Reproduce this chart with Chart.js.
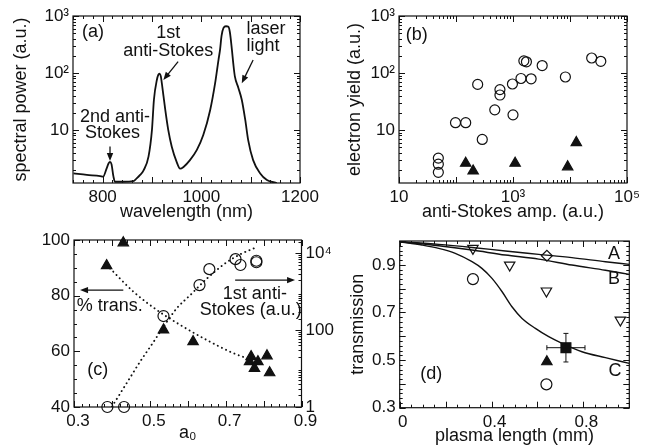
<!DOCTYPE html>
<html>
<head>
<meta charset="utf-8">
<script src="https://cdn.jsdelivr.net/npm/chart.js@4.4.1/dist/chart.umd.min.js"></script>
<style>
  html, body { margin: 0; padding: 0; background: #fff; }
  #wrap { position: relative; width: 652px; height: 448px; overflow: hidden; background: #fff; }
  canvas { position: absolute; }
</style>
</head>
<body>
<div id="wrap">
  <canvas id="pa" width="326" height="224" style="left:0;top:0"></canvas>
  <canvas id="pb" width="326" height="224" style="left:326px;top:0"></canvas>
  <canvas id="pc" width="345" height="224" style="left:0;top:224px"></canvas>
  <canvas id="pd" width="326" height="224" style="left:326px;top:224px"></canvas>
</div>
<script>
// ---------- (a) spectrum ----------
const aWavelength = [741, 768, 795, 801, 808, 812, 815, 818, 822, 825, 842, 862, 869, 876, 883, 893, 900, 904, 910, 913, 915, 918, 920, 927, 933, 940, 950, 957, 964, 977, 991, 1004, 1018, 1028, 1035, 1038, 1041, 1045, 1050, 1055, 1058, 1062, 1065, 1068, 1075, 1082, 1089, 1095, 1105, 1119, 1133, 1153];
const aPower = [1.72, 1.62, 1.55, 1.51, 2.09, 2.57, 2.75, 2.51, 1.51, 1.23, 1.23, 1.26, 1.41, 1.62, 1.95, 3.39, 10, 33.9, 75.9, 93.3, 97.7, 87.1, 66.1, 22.4, 10, 5.13, 2.75, 2.09, 2.24, 2.95, 4.47, 8.13, 22.4, 66.1, 174, 257, 447, 617, 661, 646, 513, 257, 141, 87.1, 55, 33.9, 15.1, 6.61, 2.95, 1.74, 1.32, 1.17];
const aXTicks = [800, 900, 1000, 1100, 1200];
const aXLabels = ['800', '', '1000', '', '1200'];
const aYTicks = [10, 100, 1000];
const aYLabels = ['10', '10²', '10³'];

// ---------- (b) electron yield ----------
const bCircleAmp = [49, 49, 49, 98, 148, 289, 240, 479, 590, 590, 977, 1000, 1380, 1550, 1720, 2080, 3250, 8300, 24000, 34700];
const bCircleYield = [3.2, 2.5, 1.8, 13.4, 13.4, 6.8, 63, 22.5, 51, 41, 64, 18.4, 80, 163, 157, 79, 135, 85, 183, 160];
const bTriAmp = [148, 200, 1090, 9100, 12900];
const bTriYield = [2.6, 1.9, 2.6, 2.25, 6.0];
const bXTicks = [10, 100, 1000, 10000, 100000];
const bXLabels = ['10', '', '10³', '', '10⁵'];
const bYTicks = [10, 100, 1000];
const bYLabels = ['10', '10²', '10³'];

// ---------- (c) transmission / anti-Stokes vs a0 ----------
const cTriA0 = [0.430, 0.386, 0.536, 0.614, 0.767, 0.763, 0.785, 0.776, 0.809, 0.816];
const cTriTrans = [99, 90.8, 67.7, 63.5, 58.1, 56.3, 56.3, 53.9, 58.4, 52.3];
const cCircA0 = [0.388, 0.432, 0.536, 0.631, 0.657, 0.726, 0.739, 0.781, 0.781];
const cCircAS = [1, 1, 234, 1500, 3900, 7100, 5000, 6450, 5900];
const cTransFitA0 = [0.395, 0.457, 0.519, 0.58, 0.651, 0.721, 0.757];
const cTransFit = [89.8, 81.4, 74.8, 69.5, 64, 59.3, 57.5];
const cASFitA0 = [0.400, 0.439, 0.474, 0.510, 0.536, 0.571, 0.607, 0.651, 0.704, 0.739, 0.774];
const cASFit = [1.02, 4.2, 15, 50, 123, 372, 830, 2240, 6000, 9550, 13500];
const cXTicks = [0.3, 0.4, 0.5, 0.6, 0.7, 0.8, 0.9];
const cXLabels = ['0.3', '', '0.5', '', '0.7', '', '0.9'];
const cYTicks = [40, 60, 80, 100];
const cYLabels = ['40', '60', '80', '100'];
const cY2Ticks = [1, 100, 10000];
const cY2Labels = ['1', '100', '10⁴'];

// ---------- (d) transmission vs plasma length ----------
const dCLen = [0, 0.097, 0.170, 0.242, 0.315, 0.358, 0.402, 0.446, 0.489, 0.533, 0.591, 0.649, 0.707, 0.794, 0.896, 1.0];
const dCurveC = [0.997, 0.983, 0.969, 0.948, 0.913, 0.885, 0.843, 0.787, 0.724, 0.675, 0.633, 0.598, 0.570, 0.535, 0.510, 0.486];
const dABLen = [0, 0.170, 0.315, 0.460, 0.605, 0.750, 0.896, 1.0];
const dCurveA = [0.997, 0.986, 0.973, 0.958, 0.944, 0.930, 0.913, 0.902];
const dCurveB = [0.997, 0.980, 0.962, 0.941, 0.924, 0.899, 0.877, 0.860];
const dDownTriLen = [0.319, 0.479, 0.639, 0.961];
const dDownTri = [0.969, 0.899, 0.790, 0.668];
const dCircLen = [0.319, 0.639];
const dCirc = [0.840, 0.398];
const dDiamondLen = [0.641];
const dDiamond = [0.938];
const dTriLen = [0.641];
const dTri = [0.493];
const dSquareLen = [0.724];
const dSquare = [0.552];
const dSquareErrX = [0.083];
const dSquareErrY = [0.06];
const dXTicks = [0, 0.2, 0.4, 0.6, 0.8, 1.0];
const dXLabels = ['0', '', '0.4', '', '0.8', ''];
const dYTicks = [0.3, 0.4, 0.5, 0.6, 0.7, 0.8, 0.9, 1.0];
const dYLabels = ['0.3', '', '0.5', '', '0.7', '', '0.9', ''];

const INK = '#111';
Chart.defaults.font.family = '"Liberation Sans", Arial, Helvetica, sans-serif';
Chart.defaults.color = INK;

const pts = (xs, ys) => xs.map((x, i) => ({ x: x, y: ys[i] }));

function axis(o) {
  return {
    type: o.type || 'linear', position: o.pos, min: o.min, max: o.max,
    grid: { display: false, drawTicks: false },
    border: { display: false },
    afterBuildTicks: s => { s.ticks = o.ticks.map(v => ({ value: v })); },
    afterFit: s => { if (s.isHorizontal()) s.height = o.size; else s.width = o.size; },
    ticks: { autoSkip: false, maxRotation: 0, padding: o.tickPad || 4, labelOffset: o.labelOffset || 0,
             color: INK, font: { size: 17 }, callback: (v, i) => o.labels[i] },
    title: o.title ? { display: true, text: o.title, color: INK, font: { size: 18 }, padding: o.titlePad }
                   : { display: false }
  };
}

// frame with inward ticks on all sides
function frameTicks(sides) {
  return {
    id: 'frameTicks',
    afterDraw(chart) {
      const { ctx, chartArea: a } = chart;
      ctx.save();
      ctx.strokeStyle = INK;
      ctx.lineWidth = 1.2;
      ctx.strokeRect(a.left, a.top, a.right - a.left, a.bottom - a.top);
      ctx.lineWidth = 1;
      Object.keys(sides).forEach(id => {
        const s = chart.scales[id];
        const cfg = sides[id];
        const minor = [];
        if (s.type === 'logarithmic') {
          for (let e = Math.floor(Math.log10(s.min)); e <= Math.ceil(Math.log10(s.max)); e++) {
            for (let k = 2; k <= 9; k++) {
              const v = k * Math.pow(10, e);
              if (v >= s.min && v <= s.max) minor.push(v);
            }
          }
        } else {
          for (let v = Math.ceil(s.min / cfg.minor - 1e-6) * cfg.minor; v <= s.max + 1e-9; v += cfg.minor) minor.push(v);
        }
        const tick = (v, len) => {
          const p = Math.round(s.getPixelForValue(v)) + 0.5;
          cfg.edges.forEach(e => {
            ctx.beginPath();
            if (e === 'bottom') { ctx.moveTo(p, a.bottom); ctx.lineTo(p, a.bottom - len); }
            if (e === 'top') { ctx.moveTo(p, a.top); ctx.lineTo(p, a.top + len); }
            if (e === 'left') { ctx.moveTo(a.left, p); ctx.lineTo(a.left + len, p); }
            if (e === 'right') { ctx.moveTo(a.right, p); ctx.lineTo(a.right - len, p); }
            ctx.stroke();
          });
        };
        minor.forEach(v => tick(v, 3));
        s.ticks.forEach(t => tick(t.value, 6));
      });
      ctx.restore();
    }
  };
}

// text labels and arrows placed in data coordinates
function notes(texts, arrows) {
  return {
    id: 'notes',
    afterDraw(chart) {
      const ctx = chart.ctx;
      ctx.save();
      ctx.fillStyle = INK;
      ctx.strokeStyle = INK;
      texts.forEach(n => {
        const ys = chart.scales[n.axis || 'y'];
        ctx.font = (n.size || 18) + 'px "Liberation Sans", Arial, sans-serif';
        ctx.textAlign = n.align || 'center';
        ctx.textBaseline = 'middle';
        ctx.fillText(n.text, chart.scales.x.getPixelForValue(n.x), ys.getPixelForValue(n.y));
      });
      arrows.forEach(r => {
        const ys = chart.scales[r.axis || 'y'];
        const x1 = chart.scales.x.getPixelForValue(r.x1), y1 = ys.getPixelForValue(r.y1);
        const x2 = chart.scales.x.getPixelForValue(r.x2), y2 = ys.getPixelForValue(r.y2);
        const ang = Math.atan2(y2 - y1, x2 - x1);
        ctx.lineWidth = 1.3;
        ctx.beginPath(); ctx.moveTo(x1, y1);
        ctx.lineTo(x2 - 6 * Math.cos(ang), y2 - 6 * Math.sin(ang)); ctx.stroke();
        ctx.beginPath();
        ctx.moveTo(x2, y2);
        ctx.lineTo(x2 - 8 * Math.cos(ang) + 3.2 * Math.sin(ang), y2 - 8 * Math.sin(ang) - 3.2 * Math.cos(ang));
        ctx.lineTo(x2 - 8 * Math.cos(ang) - 3.2 * Math.sin(ang), y2 - 8 * Math.sin(ang) + 3.2 * Math.cos(ang));
        ctx.closePath(); ctx.fill();
      });
      ctx.restore();
    }
  };
}

const errorBars = {
  id: 'errorBars',
  afterDatasetsDraw(chart) {
    const ctx = chart.ctx, xs = chart.scales.x, ys = chart.scales.y;
    ctx.save();
    ctx.strokeStyle = INK;
    ctx.lineWidth = 1;
    chart.data.datasets.forEach(ds => {
      if (!ds.errX) return;
      ds.data.forEach((p, i) => {
        const xl = xs.getPixelForValue(p.x - ds.errX[i]), xr = xs.getPixelForValue(p.x + ds.errX[i]);
        const yt = ys.getPixelForValue(p.y + ds.errY[i]), yb = ys.getPixelForValue(p.y - ds.errY[i]);
        const px = xs.getPixelForValue(p.x), py = ys.getPixelForValue(p.y);
        ctx.beginPath();
        ctx.moveTo(xl, py); ctx.lineTo(xr, py);
        ctx.moveTo(px, yt); ctx.lineTo(px, yb);
        ctx.moveTo(xl, py - 2.5); ctx.lineTo(xl, py + 2.5);
        ctx.moveTo(xr, py - 2.5); ctx.lineTo(xr, py + 2.5);
        ctx.moveTo(px - 2.5, yt); ctx.lineTo(px + 2.5, yt);
        ctx.moveTo(px - 2.5, yb); ctx.lineTo(px + 2.5, yb);
        ctx.stroke();
      });
    });
    ctx.restore();
  }
};

const base = (pad) => ({
  responsive: false, animation: false, devicePixelRatio: 1,
  layout: { padding: pad },
  plugins: { legend: { display: false }, tooltip: { enabled: false } },
  events: []
});

const lineDs = (data, extra) => Object.assign({ data: data, showLine: true, pointRadius: 0,
  borderColor: INK, borderWidth: 1.4, cubicInterpolationMode: 'monotone' }, extra || {});
const markDs = (data, style, fill, r, extra) => Object.assign({ data: data, showLine: false,
  pointStyle: style, pointRadius: r, pointBorderColor: INK, pointBorderWidth: 1.2,
  pointBackgroundColor: fill ? INK : 'rgba(0,0,0,0)', clip: false }, extra || {});
const dotted = { borderDash: [0.1, 4.5], borderWidth: 1.9, borderCapStyle: 'round' };

// (a)
new Chart(document.getElementById('pa'), {
  type: 'scatter',
  data: { datasets: [ lineDs(pts(aWavelength, aPower), { borderWidth: 1.8 }) ] },
  options: Object.assign(base({ left: 0, top: 16, right: 26, bottom: 0 }), {
    scales: {
      x: axis({ pos: 'bottom', min: 740, max: 1200, ticks: aXTicks, labels: aXLabels, size: 41,
                title: 'wavelength (nm)', titlePad: { top: 0, bottom: 1 } }),
      y: axis({ type: 'logarithmic', pos: 'left', min: 1.17, max: 1000, ticks: aYTicks, labels: aYLabels, size: 73,
                title: 'spectral power (a.u.)', titlePad: { top: 10, bottom: 0 } })
    }
  }),
  plugins: [frameTicks({ x: { edges: ['bottom', 'top'], minor: 20 }, y: { edges: ['left', 'right'] } }),
            notes([
              { text: '(a)', x: 758, y: 525, align: 'left' },
              { text: '1st', x: 933, y: 496 },
              { text: 'anti-Stokes', x: 933, y: 245 },
              { text: 'laser', x: 1131, y: 585 },
              { text: 'light', x: 1125, y: 295 },
              { text: '2nd anti-', x: 825, y: 17.1 },
              { text: 'Stokes', x: 820, y: 8.7 }
            ], [
              { x1: 953, y1: 158, x2: 923, y2: 75 },
              { x1: 1105, y1: 169, x2: 1082, y2: 66 },
              { x1: 815, y1: 5.1, x2: 815, y2: 2.85 }
            ])]
});

// (b)
new Chart(document.getElementById('pb'), {
  type: 'scatter',
  data: { datasets: [
    markDs(pts(bCircleAmp, bCircleYield), 'circle', false, 5),
    markDs(pts(bTriAmp, bTriYield), 'triangle', true, 6)
  ] },
  options: Object.assign(base({ left: 0, top: 16, right: 25, bottom: 0 }), {
    scales: {
      x: axis({ type: 'logarithmic', pos: 'bottom', min: 10, max: 100000, ticks: bXTicks, labels: bXLabels, size: 41,
                title: 'anti-Stokes amp. (a.u.)', titlePad: { top: 0, bottom: 1 } }),
      y: axis({ type: 'logarithmic', pos: 'left', min: 1.17, max: 1000, ticks: bYTicks, labels: bYLabels, size: 73,
                title: 'electron yield (a.u.)', titlePad: { top: 18, bottom: 0 } })
    }
  }),
  plugins: [frameTicks({ x: { edges: ['bottom', 'top'] }, y: { edges: ['left', 'right'] } }),
            notes([{ text: '(b)', x: 13.1, y: 457, align: 'left' }], [])]
});

// (c)
new Chart(document.getElementById('pc'), {
  type: 'scatter',
  data: { datasets: [
    lineDs(pts(cTransFitA0, cTransFit), dotted),
    lineDs(pts(cASFitA0, cASFit), Object.assign({ yAxisID: 'y2' }, dotted)),
    markDs(pts(cTriA0, cTriTrans), 'triangle', true, 6),
    markDs(pts(cCircA0, cCircAS), 'circle', false, 5.5, { yAxisID: 'y2' })
  ] },
  options: Object.assign(base({ left: 0, top: 16, right: 0, bottom: 0 }), {
    scales: {
      x: axis({ pos: 'bottom', min: 0.3, max: 0.9, ticks: cXTicks, labels: cXLabels, size: 41, labelOffset: 4,
                title: 'a₀', titlePad: { top: 0, bottom: 4 } }),
      y: axis({ pos: 'left', min: 40, max: 100, ticks: cYTicks, labels: cYLabels, size: 74 }),
      y2: axis({ type: 'logarithmic', pos: 'right', min: 1, max: 22400, ticks: cY2Ticks, labels: cY2Labels, size: 43.5 })
    }
  }),
  plugins: [frameTicks({ x: { edges: ['bottom', 'top'], minor: 0.02 }, y: { edges: ['left'], minor: 5 }, y2: { edges: ['right'] } }),
            notes([
              { text: '% trans.', x: 0.307, y: 76.4, align: 'left' },
              { text: '1st anti-', x: 0.777, y: 80.5 },
              { text: 'Stokes (a.u.)', x: 0.766, y: 74.9 },
              { text: '(c)', x: 0.335, y: 53.3, align: 'left' }
            ], [
              { x1: 0.430, y1: 82, x2: 0.316, y2: 82 },
              { x1: 0.725, y1: 85.6, x2: 0.883, y2: 85.6 }
            ])]
});

// (d)
new Chart(document.getElementById('pd'), {
  type: 'scatter',
  data: { datasets: [
    lineDs(pts(dABLen, dCurveA)),
    lineDs(pts(dABLen, dCurveB)),
    lineDs(pts(dCLen, dCurveC)),
    markDs(pts(dDownTriLen, dDownTri), 'triangle', false, 6, { pointRotation: 180 }),
    markDs(pts(dCircLen, dCirc), 'circle', false, 5.5),
    markDs(pts(dDiamondLen, dDiamond), 'rectRot', false, 5.5, { pointBackgroundColor: '#fff' }),
    markDs(pts(dTriLen, dTri), 'triangle', true, 6),
    markDs(pts(dSquareLen, dSquare), 'rect', true, 7, { errX: dSquareErrX, errY: dSquareErrY })
  ] },
  options: Object.assign(base({ left: 0, top: 17, right: 22.7, bottom: 0 }), {
    scales: {
      x: axis({ pos: 'bottom', min: 0, max: 1, ticks: dXTicks, labels: dXLabels, size: 40.3, labelOffset: 3,
                title: 'plasma length (mm)', titlePad: { top: 0, bottom: 1 } }),
      y: axis({ pos: 'left', min: 0.3, max: 1.0, ticks: dYTicks, labels: dYLabels, size: 73.7,
                title: 'transmission', titlePad: { top: 21, bottom: 0 } })
    }
  }),
  plugins: [errorBars,
            frameTicks({ x: { edges: ['bottom', 'top'], minor: 0.05 }, y: { edges: ['left', 'right'], minor: 0.02 } }),
            notes([
              { text: 'A', x: 0.933, y: 0.945 },
              { text: 'B', x: 0.933, y: 0.840 },
              { text: 'C', x: 0.938, y: 0.454 },
              { text: '(d)', x: 0.090, y: 0.441, align: 'left' }
            ], [])]
});
</script>
</body>
</html>
